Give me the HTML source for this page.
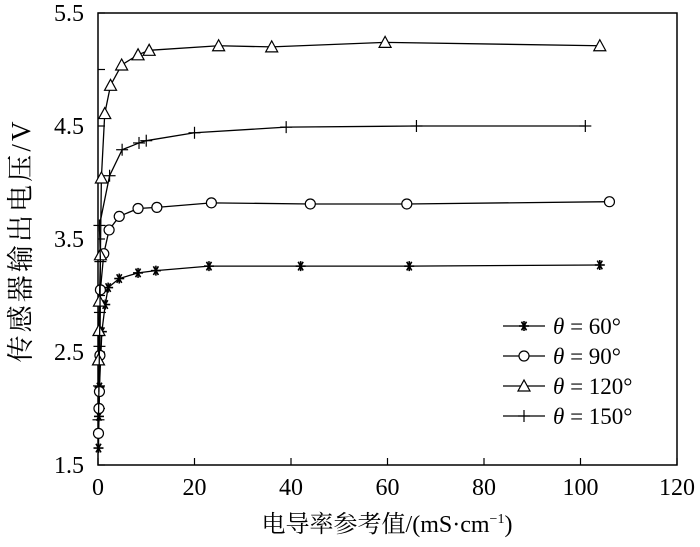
<!DOCTYPE html>
<html><head><meta charset="utf-8"><style>
body{margin:0;background:#fff}
svg text{font-family:"Liberation Serif","Noto Serif CJK SC",serif;fill:#000}
</style></head><body>
<svg width="700" height="542" id="c">
<rect x="98" y="13" width="579" height="452" fill="none" stroke="#000" stroke-width="1.5"/>
<g id="ax"></g><g id="series"></g>
<text x="387" y="532" font-size="24" text-anchor="middle">电导率参考值/(mS·cm<tspan font-size="14" dy="-9">−1</tspan><tspan dy="9">)</tspan></text>
<text transform="translate(30,242) rotate(-90)" font-size="27" text-anchor="middle" textLength="241">传感器输出电压/V</text>
<g id="legend"></g>
</svg>
<script>
const xTicks=[0,20,40,60,80,100,120];
const yTicks=[1.5,2,2.5,3,3.5,4,4.5,5,5.5];
const yLabels=["1.5","","2.5","","3.5","","4.5","","5.5"];
const seriesNames=["θ = 60°","θ = 90°","θ = 120°","θ = 150°"];
const markers=["star","circle","tri","plus"];
const x60=[0.1,0.2,0.3,0.8,1.5,2.1,4.4,8.3,12,23,42,64.5,104];
const y60=[1.65,1.93,2.19,2.68,2.92,3.07,3.15,3.2,3.22,3.26,3.26,3.26,3.27];
const x90=[0.1,0.2,0.3,0.4,0.5,1.2,2.3,4.4,8.3,12.2,23.5,44,64,106];
const y90=[1.78,2.0,2.15,2.47,3.05,3.37,3.58,3.7,3.77,3.78,3.82,3.81,3.81,3.83];
const x120=[0.1,0.2,0.3,0.5,0.7,1.4,2.6,4.9,8.3,10.6,25,36,59.5,104];
const y120=[2.43,2.69,2.95,3.36,4.04,4.61,4.86,5.04,5.13,5.17,5.21,5.2,5.24,5.21];
const x150=[0.1,0.2,0.3,0.4,0.5,0.3,2.4,5,8.5,10,20,39,66,101];
const y150=[1.9,2.2,2.55,2.85,3.3,3.62,4.06,4.29,4.35,4.37,4.44,4.49,4.5,4.5];
const X=v=>98+v*579/120, Y=v=>465-(v-1.5)*113;
const NS="http://www.w3.org/2000/svg";
function mk(t,a,p){const e=document.createElementNS(NS,t);for(const k in a)e.setAttribute(k,a[k]);p.appendChild(e);return e;}
const ax=document.getElementById('ax');
xTicks.forEach(v=>{const t=mk('line',{x1:X(v),x2:X(v),y1:465,y2:458,stroke:'#000','stroke-width':1.2},ax);


const l=mk('text',{x:X(v),y:495,'font-size':24,'text-anchor':'middle'},ax);l.textContent=v;

});
yTicks.forEach((v,i)=>{const t=mk('line',{x1:98,x2:105,y1:Y(v),y2:Y(v),stroke:'#000','stroke-width':1.2},ax);


if(yLabels[i]){const l=mk('text',{x:84,y:Y(v)+8,'font-size':24,'text-anchor':'end'},ax);l.textContent=yLabels[i];

}});
function marker(type,cx,cy,g){
 const s={stroke:'#000','stroke-width':1.2,fill:'#fff'};
 if(type==='circle')mk('circle',Object.assign({cx,cy,r:5},s),g);
 else if(type==='tri')mk('polygon',Object.assign({points:`${cx},${cy-6} ${cx-6},${cy+5} ${cx+6},${cy+5}`},s),g);
 else if(type==='plus'){mk('line',{x1:cx-6,x2:cx+6,y1:cy,y2:cy,stroke:'#000','stroke-width':1.2},g);mk('line',{x1:cx,x2:cx,y1:cy-6,y2:cy+6,stroke:'#000','stroke-width':1.2},g);}
 else{for(const a of [0,60,120]){const r=a*Math.PI/180;mk('line',{x1:cx-5*Math.cos(r),x2:cx+5*Math.cos(r),y1:cy-5*Math.sin(r),y2:cy+5*Math.sin(r),stroke:'#000','stroke-width':1.6},g);}mk('line',{x1:cx,x2:cx,y1:cy-5,y2:cy+5,stroke:'#000','stroke-width':1.6},g);}
}
const sg=document.getElementById('series');
const data=[[x60,y60],[x90,y90],[x120,y120],[x150,y150]];
data.forEach((d,i)=>{const g=mk('g',{},sg);


const pts=d[0].map((x,j)=>X(x)+','+Y(d[1][j])).join(' ');
mk('polyline',{points:pts,fill:'none',stroke:'#000','stroke-width':1.3},g);
d[0].forEach((x,j)=>marker(markers[i],X(x),Y(d[1][j]),g));});
const lg=document.getElementById('legend');
seriesNames.forEach((n,i)=>{const y=326+i*30;const g=mk('g',{},lg);


mk('line',{x1:503,x2:545,y1:y,y2:y,stroke:'#000','stroke-width':1.3},g);marker(markers[i],524,y,g);
const t=mk('text',{x:553,y:y+8,'font-size':23},g);t.innerHTML='<tspan font-style="italic">θ</tspan>'+n.slice(1);});
</script>
</body></html>
